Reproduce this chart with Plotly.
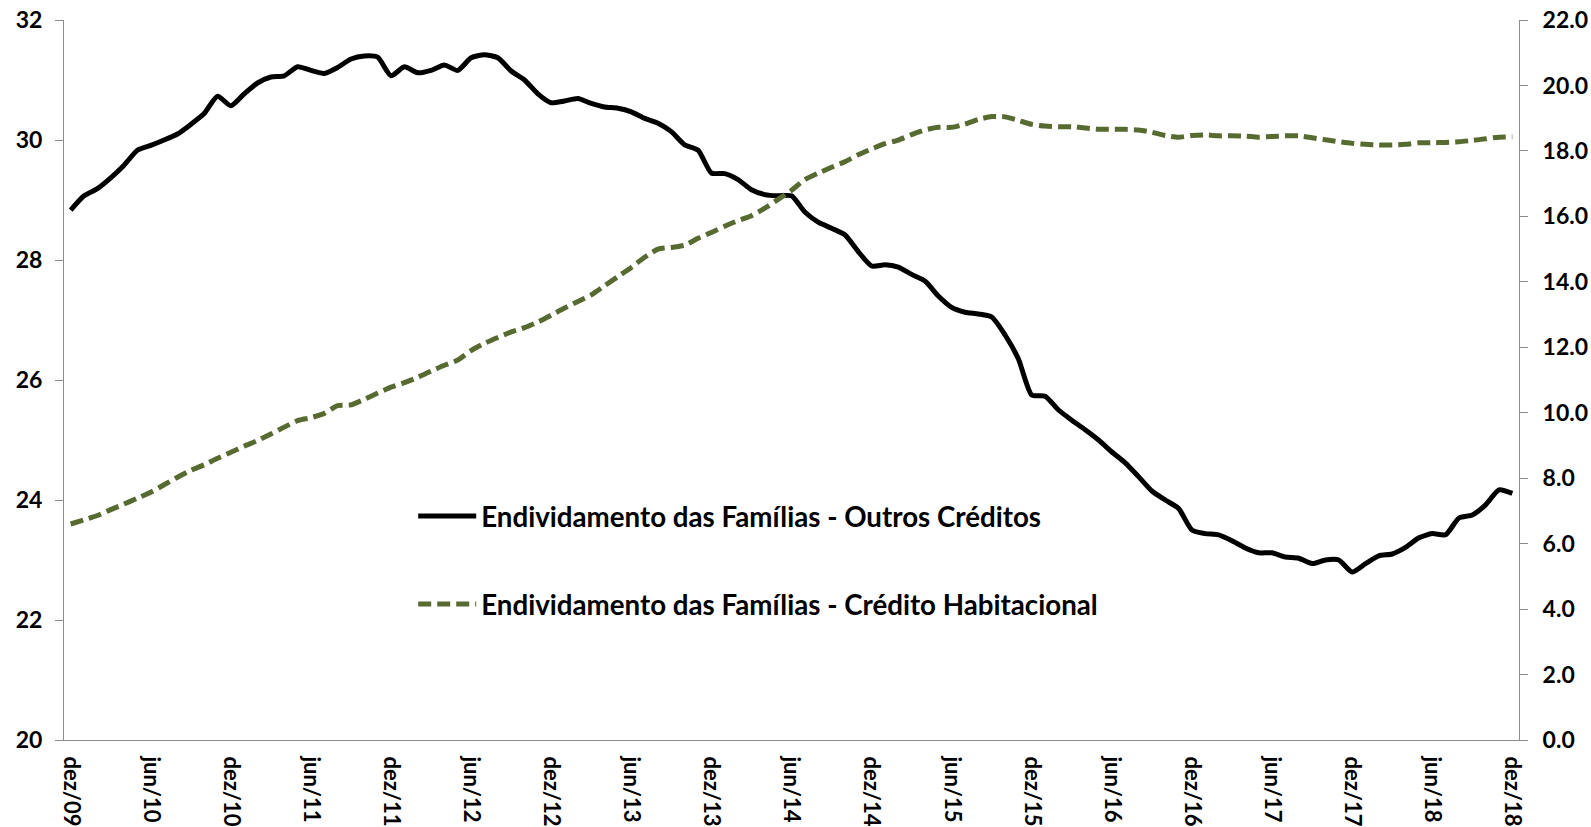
import plotly.graph_objects as go

# Monthly data, dez/2009 .. dez/2018 (109 months)
months_pt = ["jan", "fev", "mar", "abr", "mai", "jun", "jul", "ago", "set", "out", "nov", "dez"]
period_labels = ["dez/09"] + [f"{months_pt[m]}/{y:02d}" for y in range(10, 19) for m in range(12)]

outros_creditos = [
    28.83, 29.07, 29.19, 29.37, 29.58, 29.83, 29.91, 30.00, 30.10, 30.26, 30.44, 30.73,
    30.57, 30.77, 30.95, 31.05, 31.07, 31.22, 31.16, 31.11, 31.21, 31.35, 31.40, 31.38,
    31.07, 31.22, 31.12, 31.16, 31.25, 31.16, 31.37, 31.42, 31.37, 31.15, 31.00, 30.77,
    30.62, 30.65, 30.69, 30.61, 30.55, 30.53, 30.47, 30.36, 30.28, 30.14, 29.92, 29.83,
    29.45, 29.44, 29.34, 29.17, 29.09, 29.07, 29.07, 28.80, 28.63, 28.53, 28.42, 28.14,
    27.90, 27.92, 27.88, 27.76, 27.65, 27.40, 27.21, 27.13, 27.10, 27.05, 26.75, 26.35,
    25.75, 25.73, 25.50, 25.33, 25.17, 25.00, 24.80, 24.62, 24.39, 24.15, 24.00, 23.86,
    23.50, 23.44, 23.42, 23.32, 23.20, 23.12, 23.12, 23.05, 23.03, 22.94, 23.00, 23.00,
    22.80, 22.94, 23.07, 23.10, 23.21, 23.37, 23.44, 23.42, 23.70, 23.75, 23.92, 24.17,
    24.11,
]

credito_habitacional = [
    6.60, 6.73, 6.86, 7.04, 7.21, 7.39, 7.57, 7.80, 8.03, 8.24, 8.41, 8.61,
    8.79, 8.98, 9.15, 9.35, 9.56, 9.76, 9.85, 9.98, 10.22, 10.24, 10.41, 10.60,
    10.78, 10.92, 11.08, 11.27, 11.45, 11.61, 11.90, 12.12, 12.30, 12.47, 12.60, 12.77,
    12.98, 13.20, 13.40, 13.60, 13.88, 14.16, 14.44, 14.75, 15.00, 15.05, 15.12, 15.33,
    15.51, 15.70, 15.87, 16.02, 16.25, 16.52, 16.80, 17.12, 17.32, 17.50, 17.67, 17.88,
    18.06, 18.22, 18.33, 18.50, 18.64, 18.72, 18.72, 18.82, 18.96, 19.05, 19.04, 18.93,
    18.81, 18.76, 18.74, 18.74, 18.70, 18.66, 18.66, 18.66, 18.64, 18.57, 18.47, 18.42,
    18.47, 18.49, 18.46, 18.46, 18.45, 18.42, 18.44, 18.46, 18.46, 18.40, 18.34, 18.28,
    18.23, 18.20, 18.18, 18.18, 18.20, 18.25, 18.25, 18.26, 18.28, 18.32, 18.37, 18.42,
    18.43,
]

tick_labels = ["dez/09", "jun/10", "dez/10", "jun/11", "dez/11", "jun/12", "dez/12",
               "jun/13", "dez/13", "jun/14", "dez/14", "jun/15", "dez/15", "jun/16",
               "dez/16", "jun/17", "dez/17", "jun/18", "dez/18"]

left_ticks = [20, 22, 24, 26, 28, 30, 32]
right_ticks = [0, 2, 4, 6, 8, 10, 12, 14, 16, 18, 20, 22]

x_idx = list(range(len(period_labels)))
tick_idx = [period_labels.index(t) for t in tick_labels]

FONT = "Lato, 'Open Sans', sans-serif"
AXIS_GREY = "#8c8c8c"
GREEN = "#576b31"
YTICKFONT = dict(family=FONT, size=23, weight="bold", color="#000000")
XTICKFONT = dict(family=FONT, size=22, weight="bold", color="#000000")

fig = go.Figure()
fig.add_trace(go.Scatter(
    x=x_idx, y=outros_creditos, name="Endividamento das Famílias - Outros Créditos",
    mode="lines", line=dict(color="#000000", width=5, shape="spline", smoothing=0.6),
    legendgroup="a", yaxis="y",
))
fig.add_trace(go.Scatter(
    x=x_idx, y=credito_habitacional, name="Endividamento das Famílias - Crédito Habitacional",
    mode="lines", line=dict(color=GREEN, width=5, dash="13px,6px", shape="spline", smoothing=0.6),
    legendgroup="b", yaxis="y2",
))

fig.update_layout(
    width=1591, height=827,
    margin=dict(l=64, r=72, t=20, b=87, autoexpand=False),
    paper_bgcolor="white", plot_bgcolor="white",
    font=dict(family=FONT, color="#000000"),
    showlegend=True,
    legend=dict(
        x=0.240, y=0.345, xanchor="left", yanchor="top",
        bgcolor="rgba(0,0,0,0)", borderwidth=0,
        font=dict(family=FONT, size=27.7, weight="bold", color="#000000"),
        tracegroupgap=49, itemwidth=58,
    ),
    xaxis=dict(
        range=[-0.5, len(period_labels) - 0.5], automargin=False,
        tickmode="array", tickvals=tick_idx, ticktext=tick_labels,
        tickangle=90, ticks="", showgrid=False, zeroline=False,
        showline=True, linecolor=AXIS_GREY, linewidth=1,
        tickfont=XTICKFONT, ticklabelstandoff=11,
    ),
    yaxis=dict(
        range=[20, 32], tickmode="array", tickvals=left_ticks, automargin=False,
        ticks="outside", ticklen=8, tickcolor=AXIS_GREY, tickwidth=1,
        showgrid=False, zeroline=False,
        showline=True, linecolor=AXIS_GREY, linewidth=1,
        tickfont=YTICKFONT, ticklabelstandoff=8,
    ),
    yaxis2=dict(
        range=[0, 22], tickmode="array", tickvals=right_ticks, automargin=False,
        tickformat=".1f", overlaying="y", side="right",
        ticks="outside", ticklen=8, tickcolor=AXIS_GREY, tickwidth=1,
        showgrid=False, zeroline=False,
        showline=True, linecolor=AXIS_GREY, linewidth=1,
        tickfont=YTICKFONT, ticklabelstandoff=10,
    ),
)

fig.write_html(
    "out.html",
    config={"displayModeBar": False},
    post_script="document.body.style.margin='0';document.body.style.overflow='hidden';",
)
